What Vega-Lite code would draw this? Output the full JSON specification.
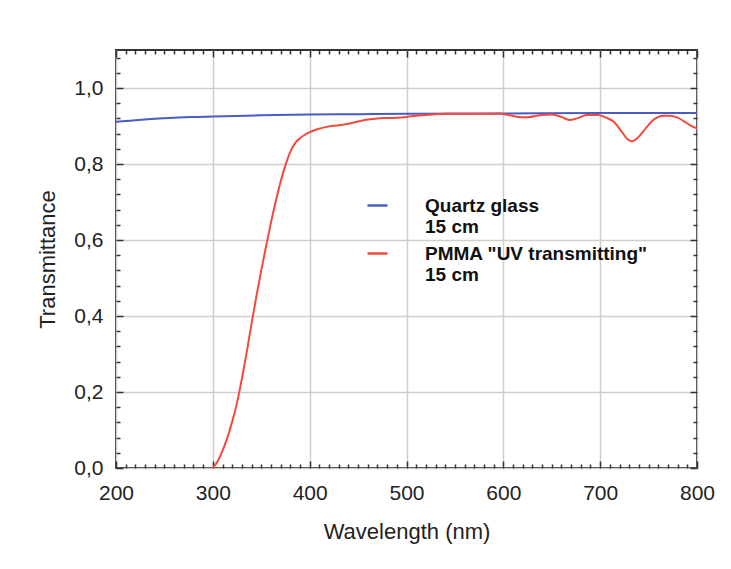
{
  "$schema": "https://vega.github.io/schema/vega-lite/v6.json",
  "width": 581,
  "height": 418,
  "autosize": "none",
  "padding": {"left": 116, "top": 50, "right": 34, "bottom": 101},
  "background": "white",
  "config": {
    "view": {"stroke": "#333333", "strokeWidth": 2},
    "axis": {
      "labelFont": "Liberation Sans",
      "titleFont": "Liberation Sans",
      "labelFontSize": 21,
      "titleFontSize": 22,
      "titleFontWeight": "normal",
      "labelColor": "#222222",
      "titleColor": "#222222",
      "tickColor": "#333333",
      "tickWidth": 1.5,
      "domain": false,
      "gridColor": "#cfcfc8",
      "gridWidth": 1.5,
      "gridOpacity": 1
    },
    "legend": {
      "labelFont": "Liberation Sans",
      "labelFontSize": 19,
      "labelFontWeight": "bold",
      "labelColor": "#111111",
      "labelLimit": 0
    }
  },
  "data": {
    "values": [
      {"nm": 200, "T": 0.911, "s": "Quartz glass"},
      {"nm": 210, "T": 0.913, "s": "Quartz glass"},
      {"nm": 220, "T": 0.915, "s": "Quartz glass"},
      {"nm": 230, "T": 0.917, "s": "Quartz glass"},
      {"nm": 240, "T": 0.919, "s": "Quartz glass"},
      {"nm": 260, "T": 0.922, "s": "Quartz glass"},
      {"nm": 280, "T": 0.924, "s": "Quartz glass"},
      {"nm": 300, "T": 0.925, "s": "Quartz glass"},
      {"nm": 350, "T": 0.928, "s": "Quartz glass"},
      {"nm": 400, "T": 0.930, "s": "Quartz glass"},
      {"nm": 450, "T": 0.931, "s": "Quartz glass"},
      {"nm": 500, "T": 0.932, "s": "Quartz glass"},
      {"nm": 600, "T": 0.933, "s": "Quartz glass"},
      {"nm": 700, "T": 0.934, "s": "Quartz glass"},
      {"nm": 800, "T": 0.934, "s": "Quartz glass"},
      {"nm": 300, "T": 0.0, "s": "PMMA \"UV transmitting\""},
      {"nm": 305, "T": 0.018, "s": "PMMA \"UV transmitting\""},
      {"nm": 310, "T": 0.045, "s": "PMMA \"UV transmitting\""},
      {"nm": 315, "T": 0.08, "s": "PMMA \"UV transmitting\""},
      {"nm": 320, "T": 0.122, "s": "PMMA \"UV transmitting\""},
      {"nm": 325, "T": 0.172, "s": "PMMA \"UV transmitting\""},
      {"nm": 330, "T": 0.235, "s": "PMMA \"UV transmitting\""},
      {"nm": 335, "T": 0.305, "s": "PMMA \"UV transmitting\""},
      {"nm": 340, "T": 0.380, "s": "PMMA \"UV transmitting\""},
      {"nm": 345, "T": 0.452, "s": "PMMA \"UV transmitting\""},
      {"nm": 350, "T": 0.520, "s": "PMMA \"UV transmitting\""},
      {"nm": 355, "T": 0.584, "s": "PMMA \"UV transmitting\""},
      {"nm": 360, "T": 0.645, "s": "PMMA \"UV transmitting\""},
      {"nm": 365, "T": 0.702, "s": "PMMA \"UV transmitting\""},
      {"nm": 370, "T": 0.753, "s": "PMMA \"UV transmitting\""},
      {"nm": 375, "T": 0.797, "s": "PMMA \"UV transmitting\""},
      {"nm": 380, "T": 0.832, "s": "PMMA \"UV transmitting\""},
      {"nm": 385, "T": 0.855, "s": "PMMA \"UV transmitting\""},
      {"nm": 390, "T": 0.868, "s": "PMMA \"UV transmitting\""},
      {"nm": 395, "T": 0.877, "s": "PMMA \"UV transmitting\""},
      {"nm": 400, "T": 0.884, "s": "PMMA \"UV transmitting\""},
      {"nm": 410, "T": 0.893, "s": "PMMA \"UV transmitting\""},
      {"nm": 420, "T": 0.899, "s": "PMMA \"UV transmitting\""},
      {"nm": 430, "T": 0.902, "s": "PMMA \"UV transmitting\""},
      {"nm": 440, "T": 0.906, "s": "PMMA \"UV transmitting\""},
      {"nm": 450, "T": 0.912, "s": "PMMA \"UV transmitting\""},
      {"nm": 460, "T": 0.917, "s": "PMMA \"UV transmitting\""},
      {"nm": 470, "T": 0.920, "s": "PMMA \"UV transmitting\""},
      {"nm": 480, "T": 0.921, "s": "PMMA \"UV transmitting\""},
      {"nm": 490, "T": 0.922, "s": "PMMA \"UV transmitting\""},
      {"nm": 500, "T": 0.924, "s": "PMMA \"UV transmitting\""},
      {"nm": 510, "T": 0.927, "s": "PMMA \"UV transmitting\""},
      {"nm": 520, "T": 0.929, "s": "PMMA \"UV transmitting\""},
      {"nm": 530, "T": 0.931, "s": "PMMA \"UV transmitting\""},
      {"nm": 540, "T": 0.932, "s": "PMMA \"UV transmitting\""},
      {"nm": 560, "T": 0.932, "s": "PMMA \"UV transmitting\""},
      {"nm": 580, "T": 0.932, "s": "PMMA \"UV transmitting\""},
      {"nm": 595, "T": 0.933, "s": "PMMA \"UV transmitting\""},
      {"nm": 605, "T": 0.929, "s": "PMMA \"UV transmitting\""},
      {"nm": 615, "T": 0.924, "s": "PMMA \"UV transmitting\""},
      {"nm": 625, "T": 0.923, "s": "PMMA \"UV transmitting\""},
      {"nm": 640, "T": 0.929, "s": "PMMA \"UV transmitting\""},
      {"nm": 650, "T": 0.930, "s": "PMMA \"UV transmitting\""},
      {"nm": 660, "T": 0.924, "s": "PMMA \"UV transmitting\""},
      {"nm": 668, "T": 0.916, "s": "PMMA \"UV transmitting\""},
      {"nm": 676, "T": 0.920, "s": "PMMA \"UV transmitting\""},
      {"nm": 686, "T": 0.929, "s": "PMMA \"UV transmitting\""},
      {"nm": 698, "T": 0.929, "s": "PMMA \"UV transmitting\""},
      {"nm": 706, "T": 0.922, "s": "PMMA \"UV transmitting\""},
      {"nm": 714, "T": 0.911, "s": "PMMA \"UV transmitting\""},
      {"nm": 722, "T": 0.886, "s": "PMMA \"UV transmitting\""},
      {"nm": 728, "T": 0.866, "s": "PMMA \"UV transmitting\""},
      {"nm": 733, "T": 0.860, "s": "PMMA \"UV transmitting\""},
      {"nm": 740, "T": 0.872, "s": "PMMA \"UV transmitting\""},
      {"nm": 748, "T": 0.897, "s": "PMMA \"UV transmitting\""},
      {"nm": 756, "T": 0.918, "s": "PMMA \"UV transmitting\""},
      {"nm": 765, "T": 0.927, "s": "PMMA \"UV transmitting\""},
      {"nm": 772, "T": 0.927, "s": "PMMA \"UV transmitting\""},
      {"nm": 780, "T": 0.922, "s": "PMMA \"UV transmitting\""},
      {"nm": 788, "T": 0.910, "s": "PMMA \"UV transmitting\""},
      {"nm": 795, "T": 0.899, "s": "PMMA \"UV transmitting\""},
      {"nm": 800, "T": 0.894, "s": "PMMA \"UV transmitting\""}
    ]
  },
  "layer": [
    {
      "mark": {"type": "line", "strokeWidth": 2, "interpolate": "monotone"},
      "encoding": {
        "x": {
          "field": "nm", "type": "quantitative",
          "scale": {"domain": [200, 800], "nice": false, "zero": false},
          "axis": {
            "orient": "bottom",
            "values": [200, 300, 400, 500, 600, 700, 800],
            "grid": true,
            "tickSize": -7,
            "labelPadding": 21,
            "title": "Wavelength (nm)",
            "titlePadding": 18,
            "labelFlush": false
          }
        },
        "y": {
          "field": "T", "type": "quantitative",
          "scale": {"domain": [0, 1.1], "nice": false},
          "axis": {
            "orient": "left",
            "values": [0, 0.2, 0.4, 0.6, 0.8, 1.0],
            "grid": true,
            "tickSize": -7,
            "labelPadding": 20,
            "labelExpr": "replace(format(datum.value, '.1f'), '.', ',')",
            "title": "Transmittance",
            "titlePadding": 14,
            "labelFlush": false
          }
        },
        "color": {
          "field": "s", "type": "nominal",
          "scale": {"domain": ["Quartz glass", "PMMA \"UV transmitting\""], "range": ["#4a5cc2", "#f24b3d"]},
          "legend": {
            "title": null,
            "orient": "none",
            "legendX": 250,
            "legendY": 144,
            "symbolType": "stroke",
            "symbolSize": 400,
            "symbolStrokeWidth": 2.5,
            "labelOffset": 36,
            "labelBaseline": "middle",
            "rowPadding": 5,
            "labelExpr": "[datum.label, '15 cm']"
          }
        }
      }
    },
    {
      "mark": {"type": "point", "opacity": 0},
      "encoding": {
        "x": {"field": "nm", "type": "quantitative", "axis": {"orient": "bottom", "values": [210,220,230,240,250,260,270,280,290,310,320,330,340,350,360,370,380,390,410,420,430,440,450,460,470,480,490,510,520,530,540,550,560,570,580,590,610,620,630,640,650,660,670,680,690,710,720,730,740,750,760,770,780,790], "grid": false, "labels": false, "tickSize": -4, "title": null}},
        "y": {"field": "T", "type": "quantitative", "axis": {"orient": "left", "values": [0.04,0.08,0.12,0.16,0.24,0.28,0.32,0.36,0.44,0.48,0.52,0.56,0.64,0.68,0.72,0.76,0.84,0.88,0.92,0.96,1.04,1.08], "grid": false, "labels": false, "tickSize": -4, "title": null}}
      }
    },
    {
      "mark": {"type": "point", "opacity": 0},
      "encoding": {
        "x": {"field": "nm", "type": "quantitative", "axis": {"orient": "top", "values": [200, 300, 400, 500, 600, 700, 800], "grid": false, "labels": false, "tickSize": -7, "title": null}},
        "y": {"field": "T", "type": "quantitative", "axis": {"orient": "right", "values": [0, 0.2, 0.4, 0.6, 0.8, 1.0], "grid": false, "labels": false, "tickSize": -7, "title": null}}
      }
    },
    {
      "mark": {"type": "point", "opacity": 0},
      "encoding": {
        "x": {"field": "nm", "type": "quantitative", "axis": {"orient": "top", "values": [210,220,230,240,250,260,270,280,290,310,320,330,340,350,360,370,380,390,410,420,430,440,450,460,470,480,490,510,520,530,540,550,560,570,580,590,610,620,630,640,650,660,670,680,690,710,720,730,740,750,760,770,780,790], "grid": false, "labels": false, "tickSize": -4, "title": null}},
        "y": {"field": "T", "type": "quantitative", "axis": {"orient": "right", "values": [0.04,0.08,0.12,0.16,0.24,0.28,0.32,0.36,0.44,0.48,0.52,0.56,0.64,0.68,0.72,0.76,0.84,0.88,0.92,0.96,1.04,1.08], "grid": false, "labels": false, "tickSize": -4, "title": null}}
      }
    }
  ],
  "resolve": {"axis": {"x": "independent", "y": "independent"}}
}
